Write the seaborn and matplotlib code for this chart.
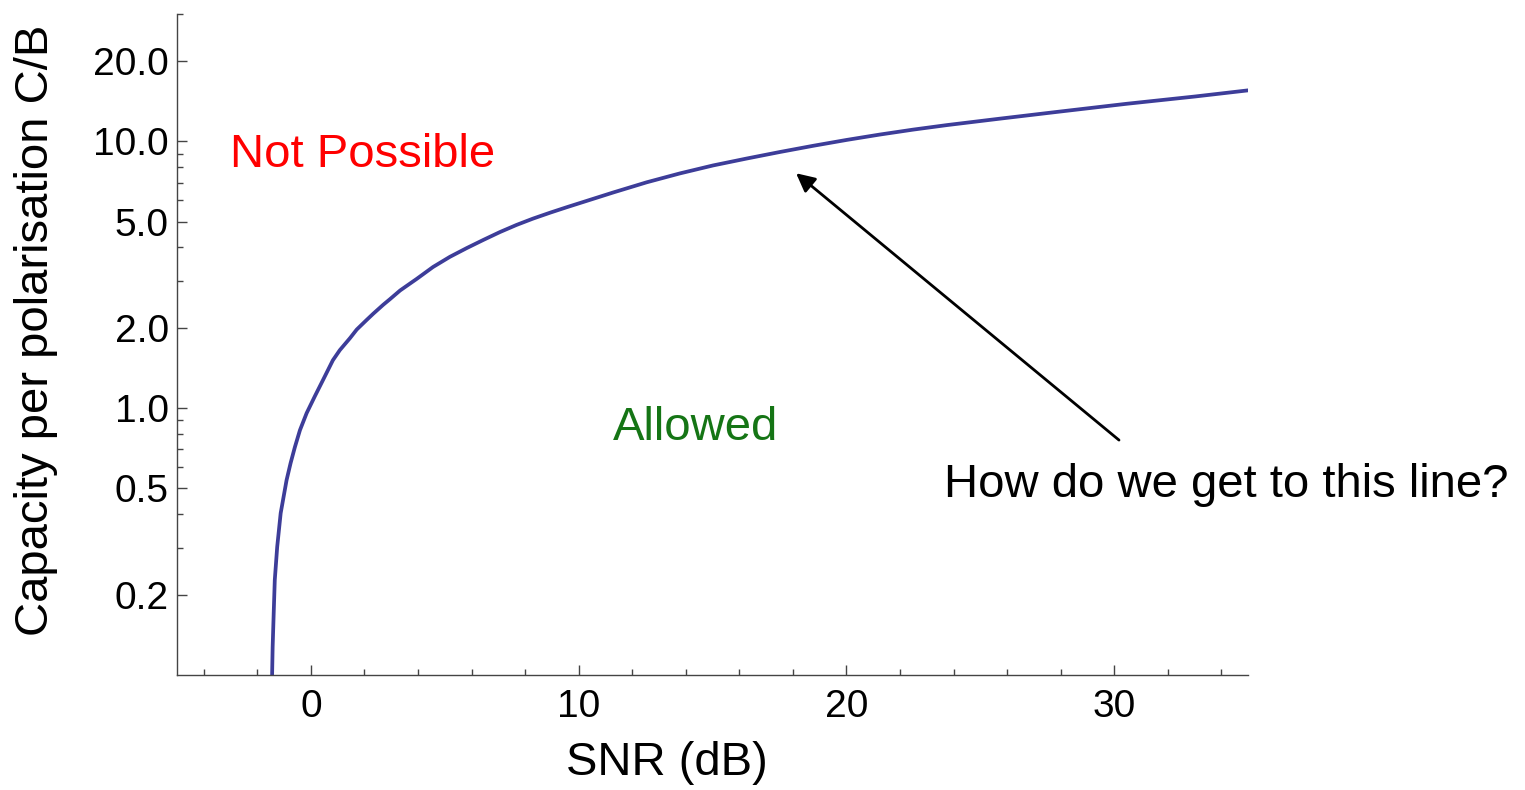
import matplotlib
matplotlib.use("Agg")
import matplotlib.pyplot as plt
import matplotlib.ticker as mticker
import seaborn as sns
import pandas as pd

# Data
snr_db = [-1.45, -1.43, -1.39, -1.35, -1.26, -1.13, -0.91, -0.76, -0.60, -0.41, -0.16,
          0.15, 0.46, 0.82, 1.08, 1.46, 1.71, 2.08, 2.33, 2.70, 2.95, 3.33, 3.70,
          3.95, 4.56, 5.19, 5.82, 6.44, 7.06, 7.68, 8.29, 8.93, 9.55, 11.29, 12.54,
          13.78, 15.02, 16.28, 17.52, 18.76, 20.01, 21.25, 22.49, 23.75, 25.74,
          27.90, 30.46, 33.02, 35.0]
capacity = [0.100, 0.127, 0.171, 0.227, 0.302, 0.404, 0.537, 0.622, 0.714, 0.827, 0.958,
            1.11, 1.28, 1.512, 1.65, 1.83, 1.97, 2.14, 2.26, 2.44, 2.56, 2.76, 2.93,
            3.05, 3.38, 3.69, 3.98, 4.27, 4.57, 4.86, 5.13, 5.40, 5.66, 6.43, 7.02,
            7.58, 8.12, 8.62, 9.12, 9.62, 10.12, 10.60, 11.06, 11.50, 12.16,
            12.90, 13.82, 14.72, 15.52]

x_major = [0, 10, 20, 30]
x_minor = [-4, -2, 2, 4, 6, 8, 12, 14, 16, 18, 22, 24, 26, 28, 32, 34]
y_major = [0.2, 0.5, 1.0, 2.0, 5.0, 10.0, 20.0]
y_minor = [0.3, 0.4, 0.6, 0.7, 0.8, 0.9, 3, 4, 6, 7, 8, 9, 30]

df = pd.DataFrame({"SNR (dB)": snr_db, "C/B": capacity})

sns.set_style("white")
plt.rcParams["font.family"] = ["Liberation Sans", "DejaVu Sans"]

fig = plt.figure(figsize=(15.25, 7.9), dpi=100)
ax = fig.add_axes([0.1161, 0.1456, 0.8184 - 0.1161, 0.9823 - 0.1456])
ax.set_yscale("log")

sns.lineplot(data=df, x="SNR (dB)", y="C/B", ax=ax, color="#3D3D99", linewidth=2.7)

ax.set_xlim(-5, 35)
ax.set_ylim(0.1, 30)

ax.xaxis.set_major_locator(mticker.FixedLocator(x_major))
ax.xaxis.set_minor_locator(mticker.FixedLocator(x_minor))
ax.yaxis.set_major_locator(mticker.FixedLocator(y_major))
ax.yaxis.set_minor_locator(mticker.FixedLocator(y_minor))
ax.yaxis.set_major_formatter(mticker.FormatStrFormatter("%.1f"))
ax.yaxis.set_minor_formatter(mticker.NullFormatter())

for side in ["top", "right"]:
    ax.spines[side].set_visible(False)
for side in ["left", "bottom"]:
    ax.spines[side].set_color("#444444")
    ax.spines[side].set_linewidth(1.0)

ax.tick_params(axis="both", which="both", direction="in", color="#444444", width=1.0,
               labelcolor="black")
ax.tick_params(axis="x", which="major", length=7, pad=10, labelsize=28)
ax.tick_params(axis="x", which="minor", length=4)
ax.tick_params(axis="y", which="major", length=7, pad=6, labelsize=28)
ax.tick_params(axis="y", which="minor", length=4)
ax.tick_params(bottom=True, left=True, which="both")

ax.set_xlabel("SNR (dB)", fontsize=34, color="black")
ax.set_ylabel("Capacity per polarisation C/B", fontsize=34, color="black")
ax.xaxis.set_label_coords(0.4575, -0.100)
ax.yaxis.set_label_coords(-0.111, 0.522)

ax.text(-3.03, 8.9, "Not Possible", color="#FF0000", fontsize=34, ha="left", va="center")
ax.text(14.35, 0.84, "Allowed", color="#157515", fontsize=34, ha="center", va="center")
ax.text(23.65, 0.515, "How do we get to this line?", color="black", fontsize=34,
        ha="left", va="center", clip_on=False)
ax.annotate("", xy=(18.12, 7.59), xytext=(30.18, 0.759),
            arrowprops=dict(arrowstyle="-|>", color="black", lw=2.0,
                            mutation_scale=28, shrinkA=0, shrinkB=0))

fig.savefig("out.png", dpi=100)
